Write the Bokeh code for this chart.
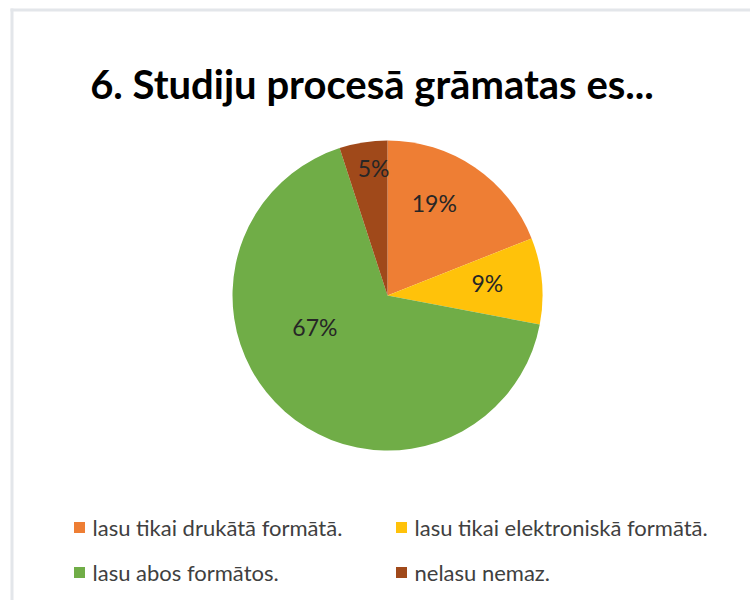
import math
from bokeh.plotting import figure
from bokeh.models import Range1d, ColumnDataSource
from bokeh.core.properties import value
from bokeh.embed import file_html
from bokeh.resources import INLINE

# ---- data ----
title_text = "6. Studiju procesā grāmatas es..."
categories = ["lasu tikai drukātā formātā.", "lasu tikai elektroniskā formātā.",
              "lasu abos formātos.", "nelasu nemaz."]
percents = [19, 9, 67, 5]
colors = ["#ee7e34", "#ffc20a", "#70ad47", "#a0491a"]

# ---- layout (pixels of the figure, y measured upwards) ----
W, H = 750, 600
cx, cy, R = 387, 305, 155
label_rfrac = [0.67, 0.65, 0.51, 0.83]     # label placement style
label_shift = [-7.4, -2.0, 25.3, 2.8]      # degrees, label placement style

p = figure(width=W, height=H, x_range=Range1d(0, W), y_range=Range1d(0, H),
           output_backend="svg", toolbar_location=None, min_border=0,
           background_fill_color="white", border_fill_color="white")
p.axis.visible = False
p.grid.visible = False
p.outline_line_color = None

# chart frame edges (light grey top/left)
p.quad(left=[10, 10], right=[13, W], bottom=[0, 589], top=[592, 592],
       fill_color="#e3e6ea", line_color=None)

# pie wedges, clockwise from 12 o'clock
total = sum(percents)
cum = [0]
for v in percents:
    cum.append(cum[-1] + v)
starts = [math.pi / 2 - 2 * math.pi * cum[i + 1] / total for i in range(len(percents))]
ends = [math.pi / 2 - 2 * math.pi * cum[i] / total for i in range(len(percents))]
src = ColumnDataSource(dict(x=[cx] * len(percents), y=[cy] * len(percents),
                            start=starts, end=ends, color=colors))
p.wedge(x="x", y="y", radius=R, start_angle="start", end_angle="end",
        fill_color="color", line_color=None, direction="anticlock", source=src)

# data labels
lx, ly, lt = [], [], []
for i, v in enumerate(percents):
    mid = 360 * (cum[i] + v / 2) / total + label_shift[i]
    a = math.radians(mid)
    r = R * label_rfrac[i]
    lx.append(cx + r * math.sin(a))
    ly.append(cy + r * math.cos(a))
    lt.append(f"{v}%")
p.text(x=lx, y=ly, text=lt, text_font=value("Lato"), text_font_size="23px",
       text_color="#262626", text_align="center", text_baseline="middle")

# title
p.text(x=[371.5], y=[517], text=[title_text], text_font=value("Lato"),
       text_font_style="bold", text_font_size="40px", text_color="#000000",
       text_align="center", text_baseline="alphabetic")

# legend (2 columns x 2 rows)
col_x = [79, 401]
row_y = [73, 28]
sq_x, sq_y, tx, ty = [], [], [], []
for i, c in enumerate(categories):
    col, row = i % 2, i // 2
    sq_x.append(col_x[col])
    sq_y.append(row_y[row])
    tx.append(col_x[col] + 13)
    ty.append(row_y[row])
p.scatter(x=sq_x, y=sq_y, marker="square", size=11, fill_color=colors, line_color=None)
p.text(x=tx, y=ty, text=categories, text_font=value("Lato"), text_font_size="22px",
       text_color="#404040", text_align="left", text_baseline="middle")

html = file_html(p, INLINE)
html = html.replace("<head>", "<head><style>html,body{margin:0;padding:0;overflow:hidden;}</style>", 1)
open("out.html", "w").write(html)
